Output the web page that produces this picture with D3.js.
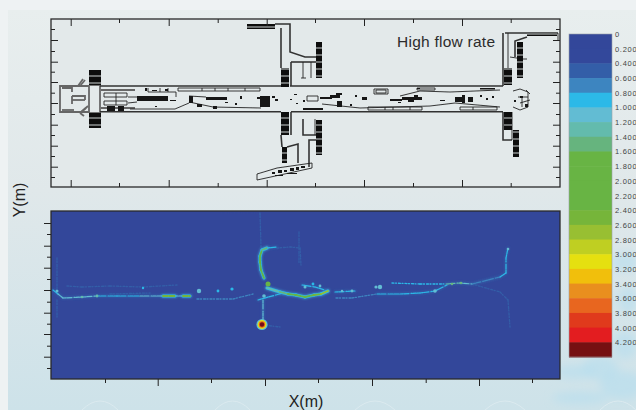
<!DOCTYPE html>
<html>
<head>
<meta charset="utf-8">
<script src="https://cdn.jsdelivr.net/npm/d3@7"></script>
<style>
  html, body { margin: 0; padding: 0; background: #eef2f3; }
  svg { display: block; font-family: "Liberation Sans", Arial, sans-serif; }
</style>
</head>
<body>
<svg id="chart" width="636" height="410"></svg>
<script>
// colour bar
var levels = [0, 0.2, 0.4, 0.6, 0.8, 1.0, 1.2, 1.4, 1.6, 1.8, 2.0, 2.2, 2.4, 2.6, 2.8, 3.0, 3.2, 3.4, 3.6, 3.8, 4.0, 4.2];
var levelColors = ["#33479a", "#33489b", "#335ea8", "#3d85c0", "#2cb9e8", "#62bcd3", "#63bbad", "#66b47e",
  "#68b444", "#68b444", "#68b444", "#68b444", "#76b53a", "#98bf32", "#bfcf22", "#e5e010",
  "#f1bf0c", "#e98f1e", "#e8661f", "#e03a1c", "#e31d20", "#761012"];

// axis ticks, in plan units
var planXMajor = [70.7, 168.7, 266.7, 364, 462];
var planXMinor = [119, 217.7, 315, 413, 510.7];
var planYMajor = [40, 61.7, 82, 103, 124.7, 145.7, 166.7];
var planYMinor = [29, 51, 71.7, 92.7, 114, 135, 156, 177];
var heatXMajor = [157.7, 265, 372, 479];
var heatXMinor = [105, 211, 318, 425.7, 532];
var heatYMajor = [223, 245.7, 267.7, 290, 312.7, 334, 356.7];
var heatYMinor = [234, 256.7, 279, 301.7, 323.7, 345.7, 368];

// floor plan: corridor and shaft walls
var planMainWalls = [
  [[100, 86], [281, 86]], [[290, 86], [503, 86]],
  [[100, 111.7], [281, 111.7]], [[291, 111.7], [503, 111.7]],
  [[281, 28], [281, 68]], [[275, 24], [290, 24], [290, 52], [305, 57], [316, 57]],
  [[291, 62], [316, 62]], [[291, 62], [291, 86]],
  [[291, 112], [291, 135]], [[303, 119], [303, 135], [316, 135]],
  [[309, 167], [309, 140], [316, 140]], [[287, 147], [298, 144], [298, 163]],
  [[503, 33], [503, 86]], [[503, 112], [503, 140], [512, 140]],
  [[505, 33], [558, 33]], [[281, 135], [282, 147]], [[515, 57], [515, 41], [527, 37]]
];
// floor plan: thin inner lines
var planWalls = [
  [[303, 62], [303, 78]], [[311, 62], [311, 78]], [[301, 78], [306, 78]], [[315, 119], [315, 135]],
  [[512, 112], [512, 140]], [[510, 57], [523, 59]], [[508, 33], [508, 68]], [[558, 33], [558, 40]], [[523, 59], [527, 59]],
  [[257, 174], [277, 168], [312, 163], [312, 168], [257, 180], [257, 174]],
  [[189, 102], [213, 107], [261, 108]], [[189, 96], [206, 97]], [[130, 109], [175, 109], [189, 103]],
  [[322, 104], [360, 108], [430, 106], [455, 103], [500, 107]],
  [[400, 96], [420, 91], [450, 92], [500, 90]], [[128, 97], [137, 97]], [[128, 103], [137, 102]],
  [[148, 88], [148, 92], [176, 92], [176, 97]], [[160, 88], [160, 92]], [[168, 88], [168, 92]],
  [[104, 93], [127, 93], [127, 97], [104, 97], [104, 93]], [[104, 101], [127, 101], [127, 105], [104, 105], [104, 101]],
  [[116, 93], [116, 105]],
  [[307, 96], [318, 96], [318, 101], [307, 101], [307, 96]],
  [[374, 89], [388, 89], [388, 94], [374, 94], [374, 89]], [[376, 90], [386, 90], [386, 93], [376, 93], [376, 90]],
  [[368, 107], [422, 107], [422, 110], [368, 110], [368, 107]], [[385, 107], [385, 110]], [[393, 107], [393, 110]], [[410, 107], [410, 110]],
  [[460, 107], [497, 107], [497, 110], [460, 110], [460, 107]], [[473, 107], [473, 110]],
  [[417, 88], [435, 88], [435, 90], [417, 90], [417, 88]],
  [[178, 88], [260, 88], [260, 91], [178, 91], [178, 88]], [[202, 88], [202, 91]], [[215, 88], [215, 91]], [[228, 88], [228, 91]], [[245, 88], [245, 91]],
  [[513, 91], [520, 89], [528, 92], [528, 107], [520, 110], [513, 107]], [[518, 97], [528, 97]], [[520, 103], [530, 100]], [[522, 97], [522, 107]], [[526, 90], [530, 94]]
];
var planGreyWalls = [
  [[89, 86], [60, 86], [60, 112], [89, 112]], [[62, 88], [72, 88], [72, 92]], [[62, 110], [74, 110]], [[72, 100], [85, 100]],
  [[72, 96], [85, 96], [85, 100]], [[72, 96], [72, 104]], [[78, 86], [83, 79]], [[80, 86], [85, 80]],
  [[80, 113], [86, 108]], [[80, 113], [84, 116]], [[88, 106], [80, 113]], [[101, 90], [135, 90]], [[101, 108], [135, 108]],
  [[89, 85], [89, 113]], [[100, 85], [100, 113]], [[89, 85], [100, 85]], [[89, 113], [100, 113]]
];

// floor plan: solid blocks [x, y, w, h]
var planBlocks = [
  [89, 70, 12, 15], [89, 113, 12, 15], [281, 68, 8, 19], [281, 112, 8, 23], [282, 147, 5, 16],
  [316, 42, 6, 36], [316, 120, 6, 35], [517, 42, 6, 36], [504, 68, 8, 17], [504, 112, 8, 18], [513, 130, 6, 27],
  [247, 24, 28, 5], [527, 33, 30, 3]
];
var planSpecks = [
  [107, 106, 8, 5], [118, 106, 6, 5], [137, 96, 31, 5], [148, 99, 12, 2], [189, 96, 4, 7], [197, 104, 5, 3], [213, 106, 4, 3],
  [206, 97, 21, 3], [260, 96, 10, 11], [272, 96, 3, 2], [275, 99, 3, 2], [240, 96, 2, 3], [257, 97, 4, 2],
  [320, 97, 12, 2], [330, 95, 10, 3], [337, 101, 5, 6], [336, 93, 6, 2], [362, 97, 5, 3], [355, 95, 2, 2],
  [390, 99, 12, 2], [402, 97, 20, 3], [414, 95, 4, 2], [408, 100, 6, 2], [455, 97, 7, 5], [462, 95, 3, 8], [468, 97, 5, 5], [480, 95, 2, 2],
  [486, 98, 2, 2], [492, 96, 2, 2], [303, 108, 20, 2], [417, 88, 3, 1], [480, 88, 15, 1.5], [294, 94, 3, 1], [290, 99, 2, 1], [296, 103, 2, 1],
  [350, 104, 2, 2], [398, 102, 3, 1], [303, 100, 2, 2], [440, 100, 5, 1], [155, 106, 2, 1], [170, 100, 6, 1], [235, 103, 2, 2], [225, 102, 3, 1],
  [272, 172, 3, 2], [278, 170, 4, 3], [284, 170, 3, 2], [290, 168, 4, 3], [296, 167, 3, 3], [301, 166, 4, 2], [275, 175, 8, 1], [287, 173, 10, 1],
  [145, 88, 2, 3], [152, 90, 5, 1], [165, 89, 3, 2], [520, 96, 3, 2], [525, 104, 3, 3], [514, 100, 2, 2]
];

// flow traces [x, y, value] in the lower map
var flowFaint = [
  [[67, 286, 0.5], [82, 287, 0.5], [110, 286, 0.5], [143, 287, 0.6], [177, 285, 0.4]],
  [[57, 258, 0.5], [57, 290, 0.6]], [[57, 300, 0.6], [57, 317, 0.5]],
  [[222, 213, 0.3], [260, 213, 0.4], [261, 247, 0.5]],
  [[277, 248, 0.6], [290, 247, 0.5], [300, 248, 0.5], [301, 265, 0.5]],
  [[299, 232, 0.5], [299, 264, 0.5]],
  [[197, 299, 0.7], [233, 299, 0.7], [253, 294, 0.7]],
  [[472, 284, 0.5], [500, 292, 0.5], [508, 300, 0.5], [510, 327, 0.6]],
  [[336, 298, 0.6], [352, 298, 0.7], [377, 294, 0.8]],
  [[392, 283, 0.8], [420, 284, 0.8], [446, 284, 0.9]],
  [[263, 325, 0.5], [280, 327, 0.4]],
  [[110, 294, 0.6], [150, 293, 0.5]]
];
var flowWarm = [
  [[53, 290, 0.9], [58, 294, 1.0], [63, 298, 1.0], [83, 297, 1.1], [97, 296, 1.0], [117, 296, 0.9], [140, 296, 0.9], [163, 296, 1.2]],
  [[175, 296, 1.0], [183, 296, 1.0]],
  [[377, 294, 0.8], [400, 294, 0.8], [420, 293, 0.8], [435, 291, 0.9], [447, 285, 1.0]],
  [[446, 284, 1.2], [460, 283, 1.2], [472, 284, 1.0]],
  [[472, 284, 0.7], [500, 277, 0.8], [506, 273, 0.8], [506, 258, 0.8], [508, 248, 1.0]],
  [[335, 292, 0.9], [355, 291, 0.9]],
  [[263, 300, 1.0], [263, 322, 1.0]],
  [[258, 300, 0.9], [265, 298, 0.9], [283, 293, 1.0]],
  [[302, 285, 1.0], [315, 287, 0.9], [325, 290, 0.9]],
  [[267, 248, 1.0], [277, 247, 0.9]]
];
var flowHot = [
  [[163, 296, 2.2], [175, 296, 2.8]],
  [[183, 296, 2.0], [190, 296, 2.8]],
  [[264, 278, 1.6], [261, 270, 2.4], [260, 262, 2.0], [260, 256, 2.6], [262, 250, 1.6], [267, 248, 1.2]],
  [[267, 288, 1.4], [280, 292, 1.2], [288, 294, 1.8], [296, 295, 1.4], [305, 297, 1.8], [314, 295, 2.2], [321, 294, 2.6], [328, 291, 2.8]]
];
var flowSpots = [
  [199, 291, 1.0, 2.2], [218, 291, 0.8, 1.4], [232, 289, 0.9, 1.6], [143, 288, 0.9, 1.2],
  [268, 284, 2.0, 2.5], [380, 287, 1.0, 2.2], [376, 287, 1.0, 1.6], [435, 291, 1.0, 1.8], [264, 296, 1.0, 1.8], [305, 287, 1.0, 1.5],
  [97, 296, 1.2, 1.4], [82, 297, 1.2, 1.2], [452, 284, 1.4, 1.2], [461, 283, 1.4, 1.3], [342, 291, 1.0, 1.2], [352, 291, 1.0, 1.4],
  [313, 284, 0.9, 1.4], [320, 286, 1.0, 1.4], [508, 249, 1.0, 1.3], [57, 291, 1.0, 1.5]
];
var flowPeak = [[262, 324.5, 1.0, 5.6], [262, 324.5, 3.0, 4.4], [262, 324.5, 3.6, 3.2], [262, 324.5, 4.2, 2.2]];

var width = 636, height = 410;
var panelLeft = 51, panelRight = 560;
var planTop = 19, planBottom = 187, heatTop = 211, heatBottom = 379;
var barLeft = 569, barRight = 612, barTop = 34, barBottom = 357;

const svg = d3.select("#chart");
const defs = svg.append("defs");

const bg = defs.append("linearGradient").attr("id", "bg").attr("x1", 0).attr("x2", 0).attr("y1", 0).attr("y2", 1);
bg.append("stop").attr("offset", "0%").attr("stop-color", "#e8eeee");
bg.append("stop").attr("offset", "45%").attr("stop-color", "#e0e8ea");
bg.append("stop").attr("offset", "100%").attr("stop-color", "#cde2e9");

function addBlur(id, amount) {
  defs.append("filter").attr("id", id)
    .attr("x", "-50%").attr("y", "-50%").attr("width", "200%").attr("height", "200%")
    .append("feGaussianBlur").attr("stdDeviation", amount);
}
addBlur("soft", 0.4);
addBlur("glow", 0.9);
addBlur("cloud", 4);

// stripes in the solid blocks
const stripes = defs.append("pattern").attr("id", "stripes").attr("patternUnits", "userSpaceOnUse").attr("width", 7).attr("height", 7);
stripes.append("rect").attr("width", 7).attr("height", 7).attr("fill", "#111");
stripes.append("rect").attr("y", 5.5).attr("width", 7).attr("height", 1).attr("fill", "#c9cfcf");

// background
svg.append("rect").attr("width", width).attr("height", height).attr("fill", "#eef2f3");
svg.append("rect").attr("x", 8).attr("y", 10).attr("width", width - 8).attr("height", height - 10).attr("fill", "url(#bg)");

// texture bottom right
const clouds = svg.append("g").attr("filter", "url(#cloud)");
clouds.selectAll("ellipse").data([[625, 262, 14, 10], [600, 300, 10, 12], [628, 300, 10, 14], [575, 372, 20, 7], [600, 368, 18, 12], [622, 385, 22, 14], [580, 398, 28, 6], [625, 345, 12, 14]])
  .join("ellipse")
  .attr("cx", d => d[0]).attr("cy", d => d[1]).attr("rx", d => d[2]).attr("ry", d => d[3])
  .attr("fill", "#b5deee").attr("opacity", 0.6);
svg.append("g").selectAll("path").data([[82, 118], [215, 250], [355, 395], [485, 525], [600, 636]])
  .join("path")
  .attr("d", d => `M${d[0]},410 Q${(d[0] + d[1]) / 2},392 ${d[1]},410`)
  .attr("fill", "none").attr("stroke", "#dbeaef").attr("stroke-width", 1);

const planX = d3.scaleLinear().domain([panelLeft, panelRight]).range([panelLeft, panelRight]);
const planY = d3.scaleLinear().domain([planTop, planBottom]).range([planTop, planBottom]);
const heatX = d3.scaleLinear().domain([panelLeft, panelRight]).range([panelLeft, panelRight]);
const heatY = d3.scaleLinear().domain([heatTop, heatBottom]).range([heatTop, heatBottom]);
const flowColor = d3.scaleThreshold().domain(levels.slice(1)).range(levelColors);

// upper panel, floor plan
svg.append("rect").attr("x", panelLeft).attr("y", planTop).attr("width", panelRight - panelLeft).attr("height", planBottom - planTop).attr("fill", "#e3e9ea");

const planLine = d3.line().x(d => planX(d[0])).y(d => planY(d[1]));
const plan = svg.append("g").attr("filter", "url(#soft)");
plan.selectAll(".grey").data(planGreyWalls).join("path").attr("class", "grey")
  .attr("d", planLine).attr("fill", "none").attr("stroke", "#666").attr("stroke-width", 1.8);
plan.selectAll(".main").data(planMainWalls).join("path").attr("class", "main")
  .attr("d", planLine).attr("fill", "none").attr("stroke", "#333").attr("stroke-width", 1.6);
plan.selectAll(".wall").data(planWalls).join("path").attr("class", "wall")
  .attr("d", planLine).attr("fill", "none").attr("stroke", "#222").attr("stroke-width", 0.9);
plan.selectAll(".block").data(planBlocks).join("rect").attr("class", "block")
  .attr("x", d => planX(d[0])).attr("y", d => planY(d[1]))
  .attr("width", d => planX(d[0] + d[2]) - planX(d[0])).attr("height", d => planY(d[1] + d[3]) - planY(d[1]))
  .attr("fill", "url(#stripes)");
plan.selectAll(".speck").data(planSpecks).join("rect").attr("class", "speck")
  .attr("x", d => planX(d[0])).attr("y", d => planY(d[1]))
  .attr("width", d => planX(d[0] + d[2]) - planX(d[0])).attr("height", d => planY(d[1] + d[3]) - planY(d[1]))
  .attr("fill", "#151515");

// lower panel, flow map
svg.append("rect").attr("x", panelLeft).attr("y", heatTop).attr("width", panelRight - panelLeft).attr("height", heatBottom - heatTop).attr("fill", levelColors[0]);

const heat = svg.append("g");

function segments(traces) {
  const out = [];
  traces.forEach(t => d3.pairs(t).forEach(p => out.push(p)));
  return out;
}
function drawFlow(traces, width, dash, capValue, blurId) {
  heat.append("g").attr("filter", `url(#${blurId})`)
    .selectAll("line").data(segments(traces)).join("line")
    .attr("x1", d => heatX(d[0][0])).attr("y1", d => heatY(d[0][1]))
    .attr("x2", d => heatX(d[1][0])).attr("y2", d => heatY(d[1][1]))
    .attr("stroke", d => flowColor(Math.min(capValue, (d[0][2] + d[1][2]) / 2)))
    .attr("stroke-width", width)
    .attr("stroke-linecap", "round")
    .attr("stroke-dasharray", dash);
}
drawFlow(flowFaint, 1.3, "2,1.5,1,2", 9, "soft");
drawFlow(flowWarm, 2.4, "none", 0.5, "glow");
drawFlow(flowHot, 4.2, "none", 0.7, "glow");
drawFlow(flowWarm, 1.2, "3,1,5,2,1,1", 9, "soft");
drawFlow(flowHot, 3, "none", 0.9, "soft");
drawFlow(flowHot, 1.8, "5,1.5", 9, "soft");

heat.append("g").attr("filter", "url(#soft)").selectAll("circle").data(flowSpots).join("circle")
  .attr("cx", d => heatX(d[0])).attr("cy", d => heatY(d[1])).attr("r", d => d[3]).attr("fill", d => flowColor(d[2]));
heat.append("g").attr("filter", "url(#soft)").selectAll("circle").data(flowPeak).join("circle")
  .attr("cx", d => heatX(d[0])).attr("cy", d => heatY(d[1])).attr("r", d => d[3]).attr("fill", d => flowColor(d[2]));

// ticks
function addTicks(axisFn, scale, values, size, tx, ty) {
  const g = svg.append("g").attr("transform", `translate(${tx},${ty})`)
    .call(axisFn(scale).tickValues(values).tickSize(size).tickFormat(""));
  g.select(".domain").remove();
  g.selectAll("line").attr("stroke", "#222").attr("stroke-width", 1);
}
// upper panel, ticks point inward
addTicks(d3.axisBottom, planX, planXMajor, 7, 0, planTop);
addTicks(d3.axisBottom, planX, planXMinor, 4, 0, planTop);
addTicks(d3.axisTop, planX, planXMajor, 7, 0, planBottom);
addTicks(d3.axisTop, planX, planXMinor, 4, 0, planBottom);
addTicks(d3.axisRight, planY, planYMajor, 7, panelLeft, 0);
addTicks(d3.axisRight, planY, planYMinor, 4, panelLeft, 0);
addTicks(d3.axisLeft, planY, planYMajor, 7, panelRight, 0);
addTicks(d3.axisLeft, planY, planYMinor, 4, panelRight, 0);
// lower panel, ticks point outward
addTicks(d3.axisBottom, heatX, heatXMajor, 7, 0, heatBottom);
addTicks(d3.axisBottom, heatX, heatXMinor, 4, 0, heatBottom);
addTicks(d3.axisLeft, heatY, heatYMajor, 7, panelLeft, 0);
addTicks(d3.axisLeft, heatY, heatYMinor, 4, panelLeft, 0);

// panel frames
[[planTop, planBottom], [heatTop, heatBottom]].forEach(d => {
  svg.append("rect").attr("x", panelLeft).attr("y", d[0]).attr("width", panelRight - panelLeft).attr("height", d[1] - d[0])
    .attr("fill", "none").attr("stroke", "#2a2a2a").attr("stroke-width", 1.3);
});

// colour bar
const barY = d3.scaleBand().domain(levels).range([barTop, barBottom]);
svg.append("g").selectAll("rect").data(levels).join("rect")
  .attr("x", barLeft).attr("y", d => barY(d))
  .attr("width", barRight - barLeft).attr("height", barY.bandwidth() + 0.5)
  .attr("fill", (d, i) => levelColors[i]);
svg.append("rect").attr("x", barLeft).attr("y", barTop).attr("width", barRight - barLeft).attr("height", barBottom - barTop)
  .attr("fill", "none").attr("stroke", "#9aa0a8").attr("stroke-width", 0.6);
svg.append("g").selectAll("text").data(levels).join("text")
  .attr("x", 615).attr("y", d => barY(d) + 3)
  .attr("font-size", 7.5).attr("letter-spacing", 0.7).attr("fill", "#444")
  .text(d => d === 0 ? "0" : d.toFixed(3));

// text labels
svg.append("text").attr("x", 397).attr("y", 47).attr("font-size", 15.5).attr("letter-spacing", 0.25).attr("fill", "#2c2c2c").text("High flow rate");
svg.append("text").attr("x", 306).attr("y", 407).attr("text-anchor", "middle").attr("font-size", 16).attr("fill", "#222").text("X(m)");
svg.append("text").attr("transform", "translate(25,200) rotate(-90)").attr("text-anchor", "middle").attr("font-size", 16).attr("fill", "#222").text("Y(m)");
</script>
</body>
</html>
